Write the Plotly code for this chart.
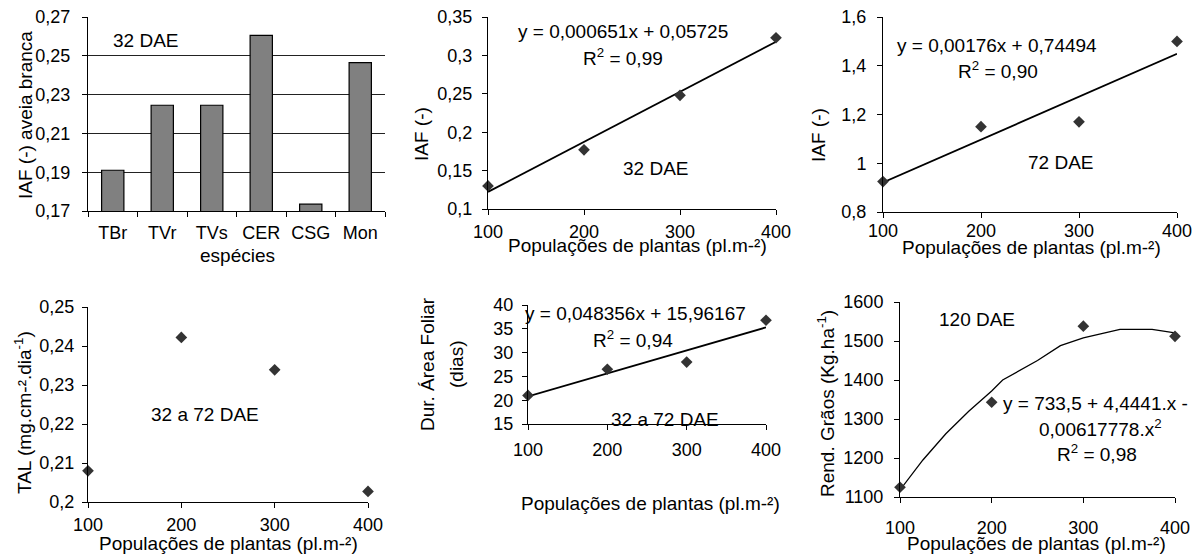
import plotly.graph_objects as go

# the page adds an 8px body margin; the figure is sized and placed to fill the window
OFF = 8
W, H = 1201 - OFF, 556 - OFF

# ---------------- data ----------------
especies = ["TBr", "TVr", "TVs", "CER", "CSG", "Mon"]
iaf_aveia_32 = [0.191, 0.2245, 0.2245, 0.2605, 0.1735, 0.2465]

populacoes = [100, 200, 300, 400]
iaf_32 = [0.130, 0.177, 0.248, 0.323]
iaf_32_trend = [0.1223, 0.3177]           # read at x = 100 and 400
iaf_72 = [0.925, 1.150, 1.170, 1.500]
iaf_72_trend = [0.921, 1.449]
tal = [0.2080, 0.2422, 0.2339, 0.2027]
daf = [21.0, 26.5, 28.0, 36.8]
daf_trend = [20.8, 35.3]
rend = [1125, 1343, 1538, 1512]
rend_curve_x = [100, 125, 150, 175, 200, 212, 250, 275, 300, 340, 375, 400]
rend_curve_y = [1118, 1195, 1262, 1320, 1372, 1400, 1450, 1488, 1508, 1530, 1530, 1521]
trend_x = [100, 400]

y1_ticks = [0.17, 0.19, 0.21, 0.23, 0.25, 0.27]
y1_labels = ["0,17", "0,19", "0,21", "0,23", "0,25", "0,27"]
y2_ticks = [0.1, 0.15, 0.2, 0.25, 0.3, 0.35]
y2_labels = ["0,1", "0,15", "0,2", "0,25", "0,3", "0,35"]
y3_ticks = [0.8, 1.0, 1.2, 1.4, 1.6]
y3_labels = ["0,8", "1", "1,2", "1,4", "1,6"]
y4_ticks = [0.20, 0.21, 0.22, 0.23, 0.24, 0.25]
y4_labels = ["0,2", "0,21", "0,22", "0,23", "0,24", "0,25"]
y5_ticks = [15, 20, 25, 30, 35, 40]
y5_labels = ["15", "20", "25", "30", "35", "40"]
y6_ticks = [1100, 1200, 1300, 1400, 1500, 1600]
y6_labels = ["1100", "1200", "1300", "1400", "1500", "1600"]
x_ticks = [100, 200, 300, 400]
x_labels = ["100", "200", "300", "400"]

FONT = "Liberation Sans, Arial, sans-serif"
FS_TICK = 18
FS = 19
MK = dict(symbol="diamond", size=9, color="#333333")
LN = dict(color="black", width=1.8)


def fx(px):
    return (px - OFF) / W


def fy(py):
    return 1 - (py - OFF) / H


fig = go.Figure()

# panel 1 - bars
fig.add_trace(go.Bar(x=especies, y=iaf_aveia_32, width=0.45,
                     marker=dict(color="#808080", line=dict(color="black", width=1.2)),
                     xaxis="x", yaxis="y", base=0))
# panel 2
fig.add_trace(go.Scatter(x=trend_x, y=iaf_32_trend, mode="lines", line=LN, xaxis="x2", yaxis="y2"))
fig.add_trace(go.Scatter(x=populacoes, y=iaf_32, mode="markers", marker=MK, xaxis="x2", yaxis="y2"))
# panel 3
fig.add_trace(go.Scatter(x=trend_x, y=iaf_72_trend, mode="lines", line=LN, xaxis="x3", yaxis="y3"))
fig.add_trace(go.Scatter(x=populacoes, y=iaf_72, mode="markers", marker=MK, xaxis="x3", yaxis="y3"))
# panel 4
fig.add_trace(go.Scatter(x=populacoes, y=tal, mode="markers", marker=MK, xaxis="x4", yaxis="y4"))
# panel 5
fig.add_trace(go.Scatter(x=trend_x, y=daf_trend, mode="lines", line=LN, xaxis="x5", yaxis="y5"))
fig.add_trace(go.Scatter(x=populacoes, y=daf, mode="markers", marker=MK, xaxis="x5", yaxis="y5"))
# panel 6
fig.add_trace(go.Scatter(x=rend_curve_x, y=rend_curve_y, mode="lines",
                         line=dict(color="black", width=1.3), xaxis="x6", yaxis="y6"))
fig.add_trace(go.Scatter(x=populacoes, y=rend, mode="markers", marker=MK, xaxis="x6", yaxis="y6"))

fig.update_traces(cliponaxis=False, selector=dict(type="scatter"))

panels = {
    1: dict(x=(88, 385), y=(17, 211), yt=(y1_ticks, y1_labels), yr=(0.17, 0.27), xs=5, ys=8),
    2: dict(x=(488, 776), y=(17, 209), yt=(y2_ticks, y2_labels), yr=(0.1, 0.35), xs=1, ys=6),
    3: dict(x=(883, 1177), y=(17, 212), yt=(y3_ticks, y3_labels), yr=(0.8, 1.6), xs=-3, ys=7),
    4: dict(x=(88, 368), y=(307, 502), yt=(y4_ticks, y4_labels), yr=(0.2, 0.25), xs=1, ys=4),
    5: dict(x=(528, 766), y=(305, 424), yt=(y5_ticks, y5_labels), yr=(15, 40), xs=4, ys=5),
    6: dict(x=(900, 1175), y=(302, 497), yt=(y6_ticks, y6_labels), yr=(1100, 1600), xs=9, ys=7),
}

tickfont = dict(family=FONT, size=FS_TICK, color="black")
layout = dict(width=W, height=H, margin=dict(l=0, r=0, t=0, b=0, pad=0, autoexpand=False),
              paper_bgcolor="white", plot_bgcolor="white", showlegend=False,
              font=dict(family=FONT, size=FS, color="black"))

for i, p in panels.items():
    xs = "" if i == 1 else str(i)
    xa = dict(domain=[fx(p["x"][0]), fx(p["x"][1])], anchor="y" + xs,
              showline=True, linecolor="black", linewidth=1, ticks="outside",
              ticklen=5, tickcolor="black", tickfont=tickfont, showgrid=False,
              zeroline=False, fixedrange=True, ticklabelstandoff=p["xs"],
              automargin=False, ticklabeloverflow="allow")
    if i == 1:
        xa.update(type="category", tickson="boundaries", range=[-0.5, 5.5])
    else:
        xa.update(range=[100, 400], tickvals=x_ticks, ticktext=x_labels)
    ya = dict(domain=[fy(p["y"][1]), fy(p["y"][0])], anchor="x" + xs,
              range=list(p["yr"]), tickvals=p["yt"][0], ticktext=p["yt"][1],
              showline=True, linecolor="black", linewidth=1, ticks="outside",
              ticklen=5, tickcolor="black", tickfont=tickfont,
              showgrid=(i == 1), gridcolor="#222222", gridwidth=1,
              zeroline=False, fixedrange=True, ticklabelstandoff=p["ys"],
              automargin=False, ticklabeloverflow="allow")
    layout["xaxis" + xs] = xa
    layout["yaxis" + xs] = ya

fig.update_layout(**layout)

ann = []


def text(t, x, y, angle=0, xanchor="center"):
    ann.append(dict(text=t, x=fx(x), y=fy(y), xref="paper", yref="paper",
                    showarrow=False, textangle=angle, xanchor=xanchor, yanchor="middle",
                    font=dict(family=FONT, size=FS, color="black")))


pop_title = "Populações de plantas (pl.m-²)"
# panel 1
text("32 DAE", 145, 40)
text("espécies", 237, 255)
text("IAF (-) aveia branca", 25, 115, -90)
# panel 2
text("y = 0,000651x + 0,05725", 623, 32)
text("R<sup>2</sup> = 0,99", 623, 57)
text("32 DAE", 655, 168)
text(pop_title, 637, 246)
text("IAF (-)", 421, 134, -90)
# panel 3
text("y = 0,00176x + 0,74494", 997, 45)
text("R<sup>2</sup> = 0,90", 998, 70)
text("72 DAE", 1060, 162)
text(pop_title, 1031, 247)
text("IAF (-)", 819, 135, -90)
# panel 4
text("32 a 72 DAE", 205, 414)
text(pop_title, 228, 543)
text("TAL (mg.cm-².dia<sup>-1</sup>)", 23, 413, -90)
# panel 5
text("y = 0,048356x + 15,96167", 635, 313)
text("R<sup>2</sup> = 0,94", 633, 339)
text("32 a 72 DAE", 665, 419)
text(pop_title, 650, 503)
text("Dur. Área Foliar", 427, 364, -90)
text("(dias)", 456, 364, -90)
# panel 6
text("120 DAE", 977, 319)
text("y = 733,5 + 4,4441.x -", 1095, 403)
text("0,00617778.x<sup>2</sup>", 1100, 428)
text("R<sup>2</sup> = 0,98", 1097, 453)
text(pop_title, 1036, 543)
text("Rend. Grãos (Kg.ha<sup>-1</sup>)", 826, 404, -90)

fig.update_layout(annotations=ann)
fig.write_html("out.html")
